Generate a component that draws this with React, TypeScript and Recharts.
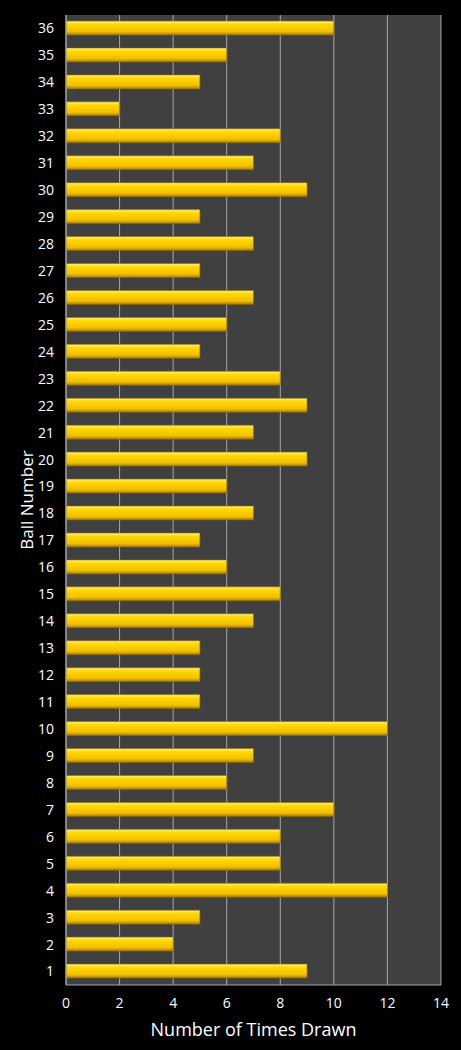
import { BarChart, Bar, XAxis, YAxis, CartesianGrid } from 'recharts'

const balls = [
  1, 2, 3, 4, 5, 6, 7, 8, 9, 10, 11, 12, 13, 14, 15, 16, 17, 18,
  19, 20, 21, 22, 23, 24, 25, 26, 27, 28, 29, 30, 31, 32, 33, 34, 35, 36,
]
const timesDrawn = [
  9, 4, 5, 12, 8, 8, 10, 6, 7, 12, 5, 5, 5, 7, 8, 6, 5, 7,
  6, 9, 7, 9, 8, 5, 6, 7, 5, 7, 5, 9, 7, 8, 2, 5, 6, 10,
]
const xTicks = [0, 2, 4, 6, 8, 10, 12, 14]

const data = balls.map((b, i) => ({ ball: String(b), count: timesDrawn[i] }))

const font = '"Open Sans", sans-serif'

export default function App() {
  return (
    <div style={{ position: 'absolute', left: 0, top: 0, width: 461, height: 1050, background: '#000' }}>
      <BarChart
        width={461}
        height={1050}
        data={data}
        layout="vertical"
        margin={{ top: 15, right: 20, bottom: 0, left: 0 }}
        barCategoryGap={6}
      >
        <defs>
          <linearGradient id="gold" x1="0" y1="0" x2="0" y2="1">
            <stop offset="0%" stopColor="#fff07a" />
            <stop offset="25%" stopColor="#ffd700" />
            <stop offset="75%" stopColor="#f2bf00" />
            <stop offset="100%" stopColor="#a87e00" />
          </linearGradient>
        </defs>
        <CartesianGrid horizontal={false} stroke="#a6a6a6" fill="#404040" />
        <XAxis
          type="number"
          domain={[0, 14]}
          ticks={xTicks}
          tickLine={false}
          tickSize={0}
          tickMargin={13}
          axisLine={{ stroke: '#a6a6a6' }}
          height={65}
          tick={{ fill: '#fff', fontSize: 14, fontFamily: font }}
          label={{ value: 'Number of Times Drawn', position: 'insideBottom', offset: 14, fill: '#fff', fontSize: 18, fontFamily: font }}
        />
        <YAxis
          type="category"
          dataKey="ball"
          reversed
          width={66}
          tickLine={false}
          tickSize={0}
          tickMargin={12}
          interval={0}
          axisLine={{ stroke: '#a6a6a6' }}
          tick={{ fill: '#fff', fontSize: 14, fontFamily: font }}
          label={{ value: 'Ball Number', angle: -90, position: 'center', dx: -6, fill: '#fff', fontSize: 17, fontFamily: font }}
        />
        <Bar dataKey="count" fill="url(#gold)" stroke="#8a6a00" strokeWidth={0.6} barSize={14} isAnimationActive={false} />
      </BarChart>
    </div>
  )
}
